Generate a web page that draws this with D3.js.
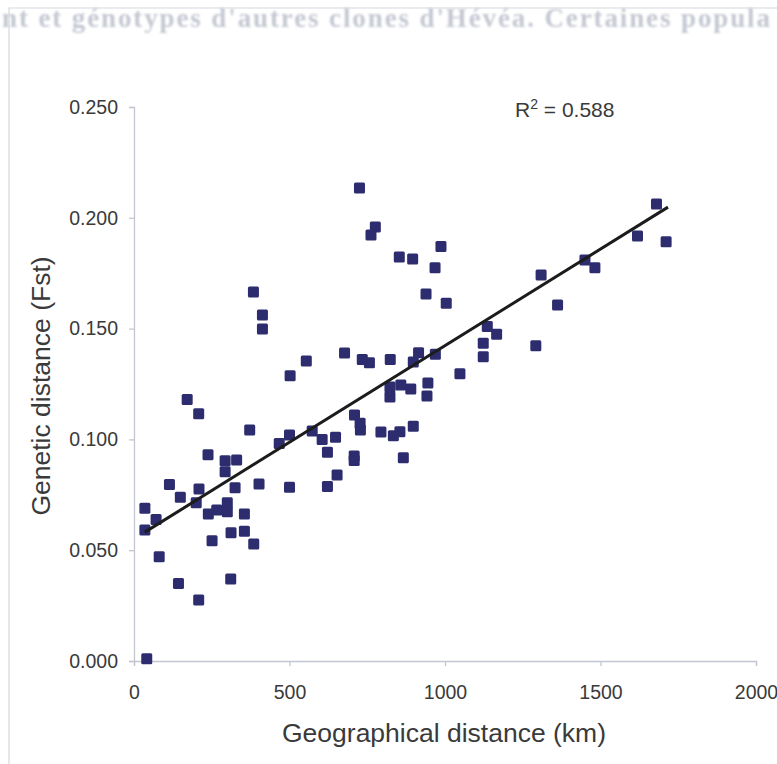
<!DOCTYPE html>
<html>
<head>
<meta charset="utf-8">
<script src="https://cdn.jsdelivr.net/npm/d3@7"></script>
<style>
  body { margin: 0; background: #fff; }
  svg { display: block; }
  text { font-family: "Liberation Sans", Arial, sans-serif; }
</style>
</head>
<body>
<svg id="chart" width="777" height="764"></svg>
<script>
// Pairwise comparisons: geographical distance (km) against genetic distance (Fst)
const distanceKm = [
  41, 81, 143, 208, 311, 251, 312, 355, 385, 35,
  71, 35, 239, 266, 300, 300, 355, 114, 149, 209,
  200, 325, 402, 500, 238, 293, 330, 293, 372, 500,
  467, 573, 605, 648, 622, 653, 622, 171, 208, 502,
  554, 384, 413, 413, 708, 708, 866, 709, 727, 728,
  794, 834, 855, 898, 823, 823, 858, 890, 945, 942,
  677, 734, 757, 824, 915, 898, 969, 1048, 725, 776,
  762, 987, 853, 896, 968, 939, 1004, 1136, 1166, 1123,
  1123, 1292, 1309, 1362, 1450, 1482, 1619, 1680, 1711
];
const fst = [
  0.001, 0.047, 0.035, 0.0275, 0.037, 0.0543, 0.0579, 0.0585, 0.0528, 0.0689,
  0.0639, 0.0591, 0.0663, 0.0681, 0.0714, 0.0674, 0.0663, 0.0797, 0.0739, 0.0776,
  0.0714, 0.0782, 0.0799, 0.0784, 0.0931, 0.0904, 0.0907, 0.0854, 0.1042, 0.102,
  0.0982, 0.1038, 0.100, 0.101, 0.0942, 0.0839, 0.0788, 0.118, 0.1116, 0.1287,
  0.1354, 0.1665, 0.1561, 0.1498, 0.0925, 0.0905, 0.0917, 0.111, 0.1073, 0.1042,
  0.1033, 0.1017, 0.1035, 0.1059, 0.1236, 0.1191, 0.1245, 0.1227, 0.1254, 0.1196,
  0.139, 0.1361, 0.1346, 0.1361, 0.1391, 0.1349, 0.1384, 0.1296, 0.2135, 0.1958,
  0.1922, 0.187, 0.1823, 0.1814, 0.1775, 0.1656, 0.1614, 0.1509, 0.1474, 0.1434,
  0.1373, 0.1423, 0.1742, 0.1606, 0.181, 0.1775, 0.1918, 0.2062, 0.1892
];
const xTicks = [0, 500, 1000, 1500, 2000];
const yTicks = [0, 0.05, 0.10, 0.15, 0.20, 0.25];

// Linear trend line fitted to the points
const trendSlope = 0.0000872;
const trendIntercept = 0.0551;
const rSquared = "0.588";

const xTitle = "Geographical distance (km)";
const yTitle = "Genetic distance (Fst)";
const pageLine = "nt et génotypes d'autres clones d'Hévéa. Certaines popula";

const svg = d3.select("#chart");

// faint line of the printed page behind the figure
const defs = svg.append("defs");
defs.append("filter").attr("id", "soft")
  .append("feGaussianBlur").attr("stdDeviation", 1.0);
svg.append("text")
  .attr("x", 2).attr("y", 27)
  .style("font-family", "'Liberation Serif', 'DejaVu Serif', serif")
  .style("font-weight", "bold")
  .style("font-size", "27px")
  .attr("textLength", 768)
  .attr("lengthAdjust", "spacing")
  .attr("fill", "#c4c8d2")
  .attr("filter", "url(#soft)")
  .text(pageLine);

// chart frame
svg.append("path")
  .attr("d", "M9,790 V8 H790")
  .attr("fill", "none")
  .attr("stroke", "#d6d8de")
  .attr("stroke-width", 1.2);

const x = d3.scaleLinear().domain([0, 2000]).range([134, 756]);
const y = d3.scaleLinear().domain([0, 0.25]).range([661, 107]);

const axisColor = "#c3c6d1";
const textColor = "#3a3a3a";

const gx = svg.append("g").attr("transform", `translate(0,${y(0)})`)
  .call(d3.axisBottom(x).tickValues(xTicks).tickFormat(d3.format("d"))
    .tickSize(5).tickPadding(19));
const gy = svg.append("g").attr("transform", `translate(${x(0)},0)`)
  .call(d3.axisLeft(y).tickValues(yTicks).tickFormat(d3.format(".3f"))
    .tickSize(5).tickPadding(11));

[gx, gy].forEach(g => {
  g.select(".domain").attr("stroke", axisColor).attr("stroke-width", 1.3);
  g.selectAll(".tick line").attr("stroke", axisColor).attr("stroke-width", 1.3);
  g.selectAll(".tick text").attr("fill", textColor)
    .style("font-size", "19.5px");
});

// points
const points = distanceKm.map((d, i) => ({ km: d, fst: fst[i] }));
const size = 11;
svg.append("g").selectAll("rect").data(points).join("rect")
  .attr("x", d => x(d.km) - size / 2)
  .attr("y", d => y(d.fst) - size / 2)
  .attr("width", size).attr("height", size)
  .attr("rx", 1.5)
  .attr("fill", "#2d2c6e");

// trend line across the range of distances
const [kmMin, kmMax] = d3.extent(distanceKm);
const line = d3.line().x(d => x(d)).y(d => y(trendIntercept + trendSlope * d));
svg.append("path")
  .attr("d", line([kmMin, kmMax + 6]))
  .attr("fill", "none")
  .attr("stroke", "#1c1c1c")
  .attr("stroke-width", 3);

// R squared label
const r2 = svg.append("text")
  .attr("x", 515).attr("y", 117)
  .style("font-size", "21px")
  .attr("fill", textColor);
r2.append("tspan").text("R");
r2.append("tspan").attr("dy", -8).style("font-size", "14px").text("2");
r2.append("tspan").attr("dy", 8).text(" = " + rSquared);

// axis titles
svg.append("text")
  .attr("x", 444).attr("y", 742)
  .attr("text-anchor", "middle")
  .style("font-size", "26.5px")
  .attr("fill", textColor)
  .text(xTitle);
svg.append("text")
  .attr("transform", "translate(50,386) rotate(-90)")
  .attr("text-anchor", "middle")
  .style("font-size", "26.5px")
  .attr("fill", textColor)
  .text(yTitle);
</script>
</body>
</html>
